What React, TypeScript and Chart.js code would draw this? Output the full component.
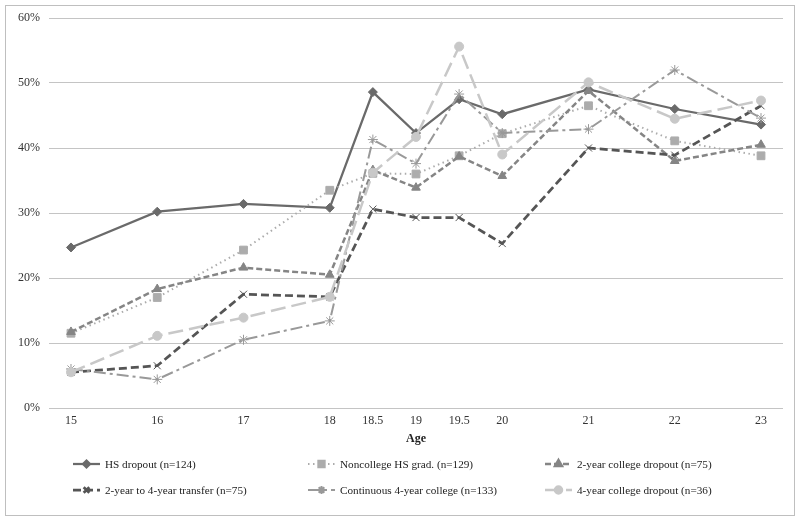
import React, { useEffect, useRef } from "react";
import { Chart, registerables } from "chart.js";
import { drawPoint } from "chart.js/helpers";

Chart.register(...registerables);

const ages = [15, 16, 17, 18, 18.5, 19, 19.5, 20, 21, 22, 23];
const yTicks = [0, 10, 20, 30, 40, 50, 60];

const hsDropout = [24.7, 30.2, 31.4, 30.8, 48.6, 42.3, 47.5, 45.2, 49.0, 46.0, 43.6];
const noncollege = [11.5, 17.0, 24.3, 33.5, 36.1, 36.0, 38.8, 42.2, 46.5, 41.1, 38.8];
const twoYearDropout = [11.7, 18.3, 21.6, 20.5, 36.6, 33.9, 38.7, 35.7, 48.8, 38.0, 40.5];
const transfer = [5.5, 6.5, 17.5, 17.1, 30.6, 29.3, 29.3, 25.3, 40.0, 38.9, 46.5];
const continuous = [6.0, 4.4, 10.5, 13.4, 41.3, 37.6, 48.3, 42.3, 42.9, 52.0, 44.6];
const fourYearDropout = [5.5, 11.1, 13.9, 17.1, 36.2, 41.7, 55.6, 39.0, 50.1, 44.5, 47.3];

const labels = [
  "HS dropout (n=124)",
  "Noncollege HS grad. (n=129)",
  "2-year college dropout (n=75)",
  "2-year to 4-year transfer (n=75)",
  "Continuous 4-year college (n=133)",
  "4-year college dropout (n=36)",
];

const seriesValues = [hsDropout, noncollege, twoYearDropout, transfer, continuous, fourYearDropout];

const styles = [
  { color: "#6a6a6a", dash: [], width: 2.25, point: "rectRot", radius: 4.5 },
  { color: "#acacac", dash: [1.5, 3.5], width: 2, point: "rect", radius: 5.5 },
  { color: "#858585", dash: [6, 3], width: 2.5, point: "triangle", radius: 5 },
  { color: "#555555", dash: [8, 4], width: 2.75, point: "crossRot", radius: 5 },
  { color: "#999999", dash: [12, 4, 3, 4], width: 2, point: "star", radius: 5 },
  { color: "#c8c8c8", dash: [15, 6], width: 2.5, point: "circle", radius: 4.5 },
];

const legendCols = [73, 308, 545];
const legendRows = [464, 490];

const framePlugin = {
  id: "frame",
  afterDraw(chart: any) {
    const ctx = chart.ctx;
    ctx.save();
    ctx.strokeStyle = "#bfbfbf";
    ctx.lineWidth = 1;
    ctx.setLineDash([]);
    ctx.strokeRect(5.5, 5.5, 789, 510);
    labels.forEach((label, i) => {
      const s = styles[i];
      const x = legendCols[i % 3];
      const y = legendRows[Math.floor(i / 3)];
      ctx.save();
      ctx.strokeStyle = s.color;
      ctx.lineWidth = s.width;
      ctx.setLineDash(s.dash);
      ctx.beginPath();
      ctx.moveTo(x, y);
      ctx.lineTo(x + 27, y);
      ctx.stroke();
      ctx.setLineDash([]);
      ctx.fillStyle = s.color;
      ctx.strokeStyle = s.color;
      drawPoint(ctx, { pointStyle: s.point, radius: s.radius - 1, rotation: 0, borderWidth: 1 }, x + 13.5, y);
      ctx.restore();
      ctx.fillStyle = "#222";
      ctx.font = "11.2px 'Liberation Serif'";
      ctx.textAlign = "left";
      ctx.textBaseline = "middle";
      ctx.fillText(label, x + 32, y + 1);
    });
    ctx.restore();
  },
};

export default function App() {
  const ref = useRef<HTMLCanvasElement>(null);
  useEffect(() => {
    if (!ref.current) return;
    Chart.defaults.font.family = "'Liberation Serif'";
    const datasets = seriesValues.map((vals, i) => {
      const s = styles[i];
      return {
        label: labels[i],
        data: vals.map((v, j) => ({ x: ages[j], y: v })),
        borderColor: s.color,
        backgroundColor: s.color,
        borderWidth: s.width,
        borderDash: s.dash,
        pointStyle: s.point,
        pointRadius: s.radius,
        pointBackgroundColor: s.color,
        pointBorderColor: s.color,
        pointBorderWidth: 1,
        tension: 0,
        fill: false,
        order: 6 - i,
      };
    });
    const chart = new Chart(ref.current, {
      type: "line",
      data: { datasets },
      plugins: [framePlugin],
      options: {
        animation: false,
        responsive: false,
        layout: { padding: { top: 18, right: 17, bottom: 73, left: 0 } },
        plugins: { legend: { display: false }, tooltip: { enabled: false } },
        scales: {
          x: {
            type: "linear",
            min: 14.745,
            max: 23.255,
            afterBuildTicks: (scale: any) => {
              scale.ticks = ages.map((v) => ({ value: v }));
            },
            afterFit: (scale: any) => {
              scale.height = 40;
            },
            grid: { display: false, drawTicks: false },
            border: { display: false },
            ticks: {
              autoSkip: false,
              maxRotation: 0,
              padding: 6,
              color: "#333",
              font: { size: 12 },
              callback: (v: any) => String(v),
            },
            title: {
              display: true,
              text: "Age",
              color: "#222",
              font: { size: 12, weight: "bold" },
              padding: { top: 0, bottom: 2 },
            },
          },
          y: {
            min: 0,
            max: 60,
            afterBuildTicks: (scale: any) => {
              scale.ticks = yTicks.map((v) => ({ value: v }));
            },
            afterFit: (scale: any) => {
              scale.width = 49;
            },
            grid: { color: "#c4c4c4", drawTicks: false, lineWidth: 1 },
            border: { display: false },
            ticks: {
              padding: 9,
              color: "#333",
              font: { size: 12 },
              callback: (v: any) => v + "%",
            },
          },
        },
      },
    } as any);
    return () => chart.destroy();
  }, []);
  return (
    <div style={{ position: "absolute", left: 0, top: 0, width: 800, height: 521, background: "#fff" }}>
      <canvas ref={ref} width={800} height={521} style={{ display: "block" }} />
    </div>
  );
}
